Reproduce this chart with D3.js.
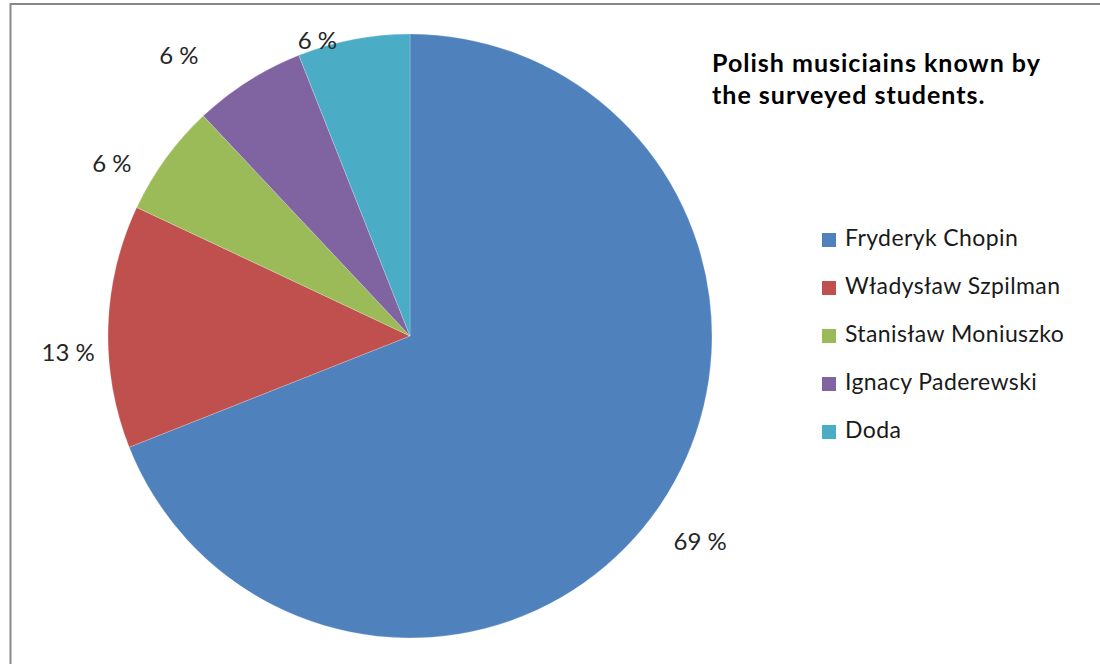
<!DOCTYPE html>
<html>
<head>
<meta charset="utf-8">
<script src="https://cdn.jsdelivr.net/npm/d3@7"></script>
<style>
  html, body { margin: 0; padding: 0; background: #fff; }
  svg { display: block; }
  text { font-family: Lato, "Open Sans", sans-serif; }
</style>
</head>
<body>
<svg id="chart" width="1100" height="664"></svg>
<script>
// Musicians named by the surveyed students, share in percent
const musicians = ["Fryderyk Chopin", "Władysław Szpilman", "Stanisław Moniuszko", "Ignacy Paderewski", "Doda"];
const shares = [69, 13, 6, 6, 6];
const sliceColors = ["#4F81BD", "#C0504D", "#9BBB59", "#8064A2", "#4BACC6"];
const titleLines = ["Polish musiciains known by", "the surveyed students."];

// Layout
const W = 1100, H = 664;
const cx = 410, cy = 336, radius = 302;
const labelRadius = 340;
// small per-label nudges so the outside labels sit clear of each other
const labelNudge = [[9, 14], [-2, 27], [-23, 27], [-49, 7], [-29, 39]];

const svg = d3.select("#chart");

// chart area frame
svg.append("rect")
  .attr("x", 10.5).attr("y", 4)
  .attr("width", W + 20).attr("height", H + 20)
  .attr("fill", "#fff")
  .attr("stroke", "#888").attr("stroke-width", 2);

const rows = musicians.map((name, i) => ({ name, value: shares[i], color: sliceColors[i] }));

const pie = d3.pie().value(d => d.value).sort(null).startAngle(0).endAngle(2 * Math.PI);
const arcs = pie(rows);

const arc = d3.arc().innerRadius(0).outerRadius(radius);
const labelArc = d3.arc().innerRadius(labelRadius).outerRadius(labelRadius);

const g = svg.append("g").attr("transform", `translate(${cx},${cy})`);

g.selectAll("path.slice")
  .data(arcs)
  .join("path")
  .attr("class", "slice")
  .attr("d", arc)
  .attr("fill", d => d.data.color)
  .attr("stroke", "rgba(255,255,255,0.35)")
  .attr("stroke-width", 0.6);

g.selectAll("text.pct")
  .data(arcs)
  .join("text")
  .attr("class", "pct")
  .attr("x", (d, i) => labelArc.centroid(d)[0] + labelNudge[i][0])
  .attr("y", (d, i) => labelArc.centroid(d)[1] + labelNudge[i][1])
  .attr("dy", "0.35em")
  .attr("text-anchor", "middle")
  .attr("font-size", 24)
  .attr("fill", "#262626")
  .text(d => `${d.data.value} %`);

// Title
svg.append("text")
  .attr("x", 712).attr("y", 72)
  .attr("font-size", 25).attr("font-weight", "bold").attr("fill", "#000")
  .attr("letter-spacing", 1.0)
  .selectAll("tspan")
  .data(titleLines)
  .join("tspan")
  .attr("x", 712)
  .attr("dy", (d, i) => i === 0 ? 0 : 32)
  .text(d => d);

// Legend
const legend = svg.append("g").attr("transform", "translate(822,233)");
const item = legend.selectAll("g.item")
  .data(rows)
  .join("g")
  .attr("class", "item")
  .attr("transform", (d, i) => `translate(0,${i * 48})`);

item.append("rect")
  .attr("width", 14).attr("height", 14)
  .attr("fill", d => d.color);

item.append("text")
  .attr("x", 23).attr("y", 13)
  .attr("font-size", 23)
  .attr("letter-spacing", 0.4)
  .attr("fill", "#1a1a1a")
  .text(d => d.name);
</script>
</body>
</html>
